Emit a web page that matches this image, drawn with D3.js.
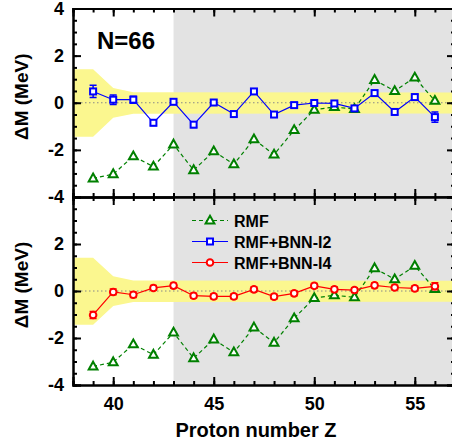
<!DOCTYPE html>
<html><head><meta charset="utf-8">
<script src="https://cdn.jsdelivr.net/npm/d3@7"></script>
<style>body{margin:0;background:#fff}svg{display:block}text{font-family:Arial,"Liberation Sans",sans-serif;font-weight:bold}</style>
</head><body>
<script>
const Z = [39,40,41,42,43,44,45,46,47,48,49,50,51,52,53,54,55,56];
const rmf = [-3.21,-3.03,-2.27,-2.71,-1.77,-2.86,-2.06,-2.61,-1.55,-2.2,-1.16,-0.3,-0.18,-0.27,0.97,0.5,1.07,0.08];
const bnnI2 = [0.48,0.13,0.13,-0.85,0.04,-0.93,0.01,-0.48,0.48,-0.5,-0.1,-0.01,-0.03,-0.24,0.41,-0.39,0.24,-0.61];
const bnnI2err = [0.26,0.2,0.15,0.12,0.1,0.12,0.1,0.1,0.1,0.1,0.1,0.1,0.1,0.1,0.1,0.12,0.12,0.22];
const bnnI4 = [-1.02,-0.04,-0.16,0.13,0.23,-0.2,-0.23,-0.23,0.07,-0.24,-0.1,0.22,0.07,0.04,0.24,0.15,0.11,0.2];
const bnnI4err = [0.15,0.12,0.12,0.1,0.1,0.1,0.1,0.1,0.1,0.1,0.1,0.1,0.1,0.1,0.1,0.1,0.1,0.15];
const bandZ = [38,39,40,41,57];
const bandUp = [1.42,1.42,0.63,0.45,0.44];
const bandLo = [-1.44,-1.44,-0.64,-0.47,-0.46];
const shadeFrom = 43;
const xTicks = [40,45,50,55];
const yTicks = [-4,-2,0,2,4];
const legendLabels = ["RMF","RMF+BNN-I2","RMF+BNN-I4"];
const title = "N=66";

const W=452,H=444;
const svg=d3.select("body").append("svg").attr("width",W).attr("height",H);
const x=d3.scaleLinear([38,57],[73,455]);
const yTop=d3.scaleLinear([-4,4],[197,8.5]);
const yBot=d3.scaleLinear([-4,4],[385,197]);
const GREEN="#008000",BLUE="#0000ff",RED="#ff0000";

function panel(y, series, showXLabels, yLabelVals){
  const g=svg.append("g");
  const [y0,y1]=[y(-4),y(4)];
  g.append("rect").attr("x",x(shadeFrom)).attr("y",y1).attr("width",x(57)-x(shadeFrom)).attr("height",y0-y1).attr("fill","#e3e3e3");
  const area=d3.area().x((d,i)=>x(bandZ[i])).y0((d,i)=>y(bandLo[i])).y1((d,i)=>y(bandUp[i]));
  g.append("path").attr("d",area(bandZ)).attr("fill","#fbf78f");
  g.append("line").attr("x1",x(38)).attr("x2",x(57)).attr("y1",y(0)).attr("y2",y(0)).attr("stroke","#888").attr("stroke-width",1).attr("stroke-dasharray","1.5,2.5");
  series.forEach(s=>draw(g,y,s));
  // axes
  const mk=(ax,ticks,size,fmt)=>ax.tickValues(ticks).tickSize(size).tickFormat(fmt);
  const xMinor=d3.range(38,58,1), yMinor=d3.range(-4,4.01,0.5);
  const addAxis=(axis,transform)=>{const a=g.append("g").attr("transform",transform).call(axis);a.select(".domain").attr("stroke-width",2);a.selectAll(".tick line").attr("stroke-width",2);return a;};
  addAxis(mk(d3.axisBottom(x),xMinor,-4,""),`translate(0,${y0})`);
  addAxis(mk(d3.axisTop(x),xMinor,-4,""),`translate(0,${y1})`);
  addAxis(mk(d3.axisLeft(y),yMinor,-4,""),`translate(${x(38)},0)`);
  addAxis(mk(d3.axisRight(y),yMinor,-4,""),`translate(${x(57)},0)`);
  const bx=addAxis(mk(d3.axisBottom(x),xTicks,-8,d=>showXLabels?d:"").tickPadding(12),`translate(0,${y0})`);
  bx.selectAll("text").attr("font-size",18).attr("font-weight","bold").attr("font-family","Arial, Liberation Sans");
  addAxis(mk(d3.axisTop(x),xTicks,-8,""),`translate(0,${y1})`);
  const ly=addAxis(mk(d3.axisLeft(y),yTicks,-8,d=>yLabelVals.includes(d)?d:"").tickPadding(9),`translate(${x(38)},0)`);
  ly.selectAll("text").attr("font-size",18).attr("font-weight","bold").attr("font-family","Arial, Liberation Sans");
  addAxis(mk(d3.axisRight(y),yTicks,-8,""),`translate(${x(57)},0)`);
  svg.append("text").attr("transform",`translate(28,${(y0+y1)/2-6}) rotate(-90)`).attr("text-anchor","middle").attr("font-size",19).text("ΔM (MeV)");
  return g;
}
const markers={
  tri:(g,cx,cy,c)=>g.append("path").attr("d",`M${cx},${cy-4.8}L${cx+4.4},${cy+3}L${cx-4.4},${cy+3}Z`).attr("fill","#fff").attr("stroke",c).attr("stroke-width",2),
  sq:(g,cx,cy,c)=>g.append("rect").attr("x",cx-3).attr("y",cy-3).attr("width",6).attr("height",6).attr("fill","#fff").attr("stroke",c).attr("stroke-width",2),
  circ:(g,cx,cy,c)=>g.append("circle").attr("cx",cx).attr("cy",cy).attr("r",3.3).attr("fill","#fff").attr("stroke",c).attr("stroke-width",2)
};
function draw(g,y,s){
  const line=d3.line().x((d,i)=>x(Z[i])).y(d=>y(d));
  g.append("path").attr("d",line(s.v)).attr("fill","none").attr("stroke",s.c).attr("stroke-width",1.2).attr("stroke-dasharray",s.dash||null);
  if(s.err){
    s.v.forEach((v,i)=>{
      const cx=x(Z[i]),a=y(v+s.err[i]),b=y(v-s.err[i]);
      g.append("path").attr("d",`M${cx},${a}V${b}M${cx-3.5},${a}H${cx+3.5}M${cx-3.5},${b}H${cx+3.5}`).attr("stroke",s.c).attr("stroke-width",1.5).attr("fill","none");
    });
  }
  s.v.forEach((v,i)=>markers[s.m](g,x(Z[i]),y(v),s.c));
}
const sR={v:rmf,c:GREEN,m:"tri",dash:"4,3"};
const s2={v:bnnI2,c:BLUE,m:"sq",err:bnnI2err};
const s4={v:bnnI4,c:RED,m:"circ",err:bnnI4err};
panel(yTop,[sR,s2],false,[-4,-2,0,2,4]);
panel(yBot,[sR,s4],true,[-4,-2,0,2]);
svg.append("text").attr("x",97).attr("y",49).attr("font-size",24).text(title);
svg.append("text").attr("x",256).attr("y",437).attr("text-anchor","middle").attr("font-size",20).text("Proton number Z");
// legend
const leg=[sR,s2,s4];
leg.forEach((s,i)=>{
  const cy=220.5+i*21;
  svg.append("line").attr("x1",192).attr("x2",228).attr("y1",cy).attr("y2",cy).attr("stroke",s.c).attr("stroke-width",1.2).attr("stroke-dasharray",s.dash||null);
  markers[s.m](svg,210,cy,s.c);
  svg.append("text").attr("x",234).attr("y",cy+6).attr("font-size",16).text(legendLabels[i]);
});
</script>
</body></html>
